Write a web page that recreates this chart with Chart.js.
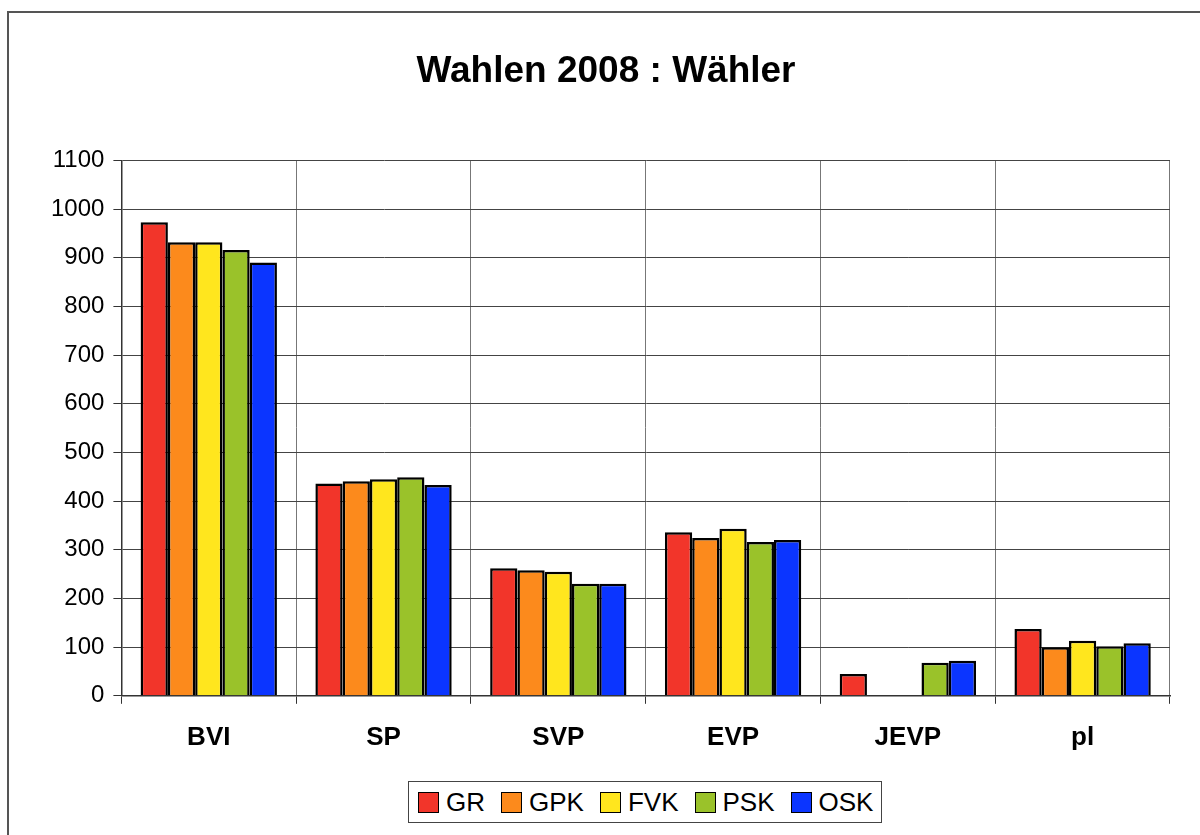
<!DOCTYPE html>
<html>
<head>
<meta charset="utf-8">
<script src="https://cdn.jsdelivr.net/npm/chart.js@4"></script>
<style>
  body { margin: 0; background: #fff; }
  #wrap { position: relative; width: 1200px; height: 835px; overflow: hidden; }
  #frame { position: absolute; left: 7px; top: 11px; width: 1200px; height: 900px; border: 2px solid #555; pointer-events: none; }
  #legend {
    position: absolute; left: 408px; top: 781px; width: 474px; height: 42px;
    border: 1.5px solid #444; background: #fff;
    display: flex; align-items: center; padding-left: 9px; box-sizing: border-box;
    font-family: 'Liberation Sans', Arial, sans-serif; font-size: 26px; color: #000;
  }
  #legend .item { display: flex; align-items: center; margin-right: 16px; }
  #legend .swatch { width: 19px; height: 19px; border: 1px solid #000; margin-right: 7px; }
</style>
</head>
<body>
<div id="wrap">
  <canvas id="wahlChart" width="1200" height="835"></canvas>
  <div id="frame"></div>
  <div id="legend"></div>
</div>
<script>
const categories = ['BVI', 'SP', 'SVP', 'EVP', 'JEVP', 'pl'];
const seriesNames = ['GR', 'GPK', 'FVK', 'PSK', 'OSK'];
const grValues  = [973, 436, 262, 336, 45, 137];
const gpkValues = [932, 441, 258, 324, 0, 100];
const fvkValues = [932, 445, 255, 343, 0, 113];
const pskValues = [916, 449, 230, 316, 68, 102];
const oskValues = [890, 433, 230, 320, 72, 108];
const colors = ['#F2352A', '#FC8A1C', '#FFE61E', '#9AC22A', '#0B35FF'];

const allValues = [grValues, gpkValues, fvkValues, pskValues, oskValues];

// Legende als HTML, mit Rahmen wie im Original
document.getElementById('legend').innerHTML = seriesNames.map((name, i) =>
    `<div class="item"><div class="swatch" style="background:${colors[i]}"></div><span>${name}</span></div>`
).join('');

const ctx = document.getElementById('wahlChart').getContext('2d');
new Chart(ctx, {
    type: 'bar',
    data: {
        labels: categories,
        datasets: seriesNames.map((name, i) => ({
            label: name,
            data: allValues[i],
            backgroundColor: colors[i],
            borderColor: '#000',
            borderWidth: 2.5,
            categoryPercentage: 0.78,
            barPercentage: 1.0
        }))
    },
    options: {
        responsive: false,
        animation: false,
        layout: { padding: { left: 42, right: 30, top: 30, bottom: 64 } },
        plugins: {
            title: {
                display: true,
                text: 'Wahlen 2008 : Wähler',
                color: '#000',
                font: { family: 'Liberation Sans', size: 37, weight: 'bold' },
                padding: { top: 20, bottom: 66 }
            },
            legend: { display: false },
            tooltip: { enabled: false }
        },
        scales: {
            x: {
                grid: { offset: true, color: '#777', lineWidth: 1, tickLength: 8, tickColor: '#333' },
                border: { color: '#333', width: 1.5 },
                ticks: {
                    color: '#000',
                    padding: 18,
                    font: { family: 'Liberation Sans', size: 26, weight: 'bold' }
                }
            },
            y: {
                min: 0,
                max: 1100,
                grid: { color: '#444', lineWidth: 1, tickLength: 8, tickColor: '#333' },
                border: { color: '#333', width: 1.5 },
                ticks: {
                    stepSize: 100,
                    color: '#000',
                    padding: 9,
                    font: { family: 'Liberation Sans', size: 24 },
                    callback: value => String(value)
                }
            }
        }
    }
});
</script>
</body>
</html>
